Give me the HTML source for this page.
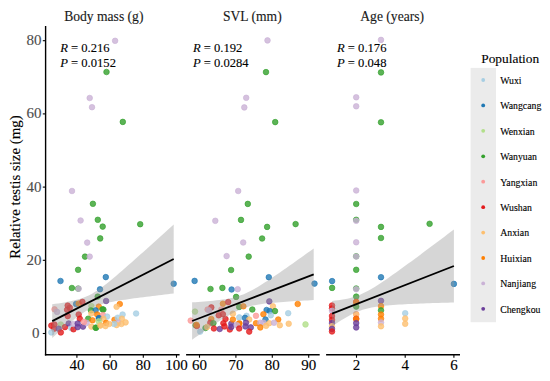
<!DOCTYPE html>
<html><head><meta charset="utf-8"><style>
html,body{margin:0;padding:0;background:#fff;width:550px;height:381px;overflow:hidden}
svg{display:block}
text{font-family:"Liberation Serif",serif;stroke:currentColor;stroke-width:0.12px}
.yt{font-size:15px;fill:#4D4D4D;color:#4D4D4D}
.xt{font-size:15px;fill:#000}
.st{font-size:13.6px;fill:#1A1A1A;color:#1A1A1A}
.yl{font-size:14.9px;fill:#000}
.an{font-size:12.6px;fill:#000}
.lt{font-size:13.4px;fill:#000}
.ll{font-size:9.8px;fill:#000}
</style></head><body>
<svg width="550" height="381" viewBox="0 0 550 381">
<circle cx="115.1" cy="40.8" r="2.8" fill="#CAB2D6" fill-opacity="0.8" stroke="#CAB2D6" stroke-opacity="0.8" stroke-width="0.8"/>
<circle cx="106.5" cy="72.0" r="2.8" fill="#33A02C" fill-opacity="0.8" stroke="#33A02C" stroke-opacity="0.8" stroke-width="0.8"/>
<circle cx="89.7" cy="98.0" r="2.8" fill="#CAB2D6" fill-opacity="0.8" stroke="#CAB2D6" stroke-opacity="0.8" stroke-width="0.8"/>
<circle cx="92.0" cy="107.2" r="2.8" fill="#CAB2D6" fill-opacity="0.8" stroke="#CAB2D6" stroke-opacity="0.8" stroke-width="0.8"/>
<circle cx="122.8" cy="121.9" r="2.8" fill="#33A02C" fill-opacity="0.8" stroke="#33A02C" stroke-opacity="0.8" stroke-width="0.8"/>
<circle cx="72.0" cy="191.0" r="2.8" fill="#CAB2D6" fill-opacity="0.8" stroke="#CAB2D6" stroke-opacity="0.8" stroke-width="0.8"/>
<circle cx="92.9" cy="203.8" r="2.8" fill="#33A02C" fill-opacity="0.8" stroke="#33A02C" stroke-opacity="0.8" stroke-width="0.8"/>
<circle cx="80.6" cy="220.5" r="2.8" fill="#CAB2D6" fill-opacity="0.8" stroke="#CAB2D6" stroke-opacity="0.8" stroke-width="0.8"/>
<circle cx="97.8" cy="219.8" r="2.8" fill="#33A02C" fill-opacity="0.8" stroke="#33A02C" stroke-opacity="0.8" stroke-width="0.8"/>
<circle cx="102.7" cy="226.6" r="2.8" fill="#33A02C" fill-opacity="0.8" stroke="#33A02C" stroke-opacity="0.8" stroke-width="0.8"/>
<circle cx="140.2" cy="224.2" r="2.8" fill="#33A02C" fill-opacity="0.8" stroke="#33A02C" stroke-opacity="0.8" stroke-width="0.8"/>
<circle cx="100.2" cy="238.4" r="2.8" fill="#33A02C" fill-opacity="0.8" stroke="#33A02C" stroke-opacity="0.8" stroke-width="0.8"/>
<circle cx="87.2" cy="242.6" r="2.8" fill="#CAB2D6" fill-opacity="0.8" stroke="#CAB2D6" stroke-opacity="0.8" stroke-width="0.8"/>
<circle cx="85.0" cy="256.6" r="2.8" fill="#33A02C" fill-opacity="0.8" stroke="#33A02C" stroke-opacity="0.8" stroke-width="0.8"/>
<circle cx="89.7" cy="256.6" r="2.8" fill="#CAB2D6" fill-opacity="0.8" stroke="#CAB2D6" stroke-opacity="0.8" stroke-width="0.8"/>
<circle cx="78.1" cy="269.8" r="2.8" fill="#33A02C" fill-opacity="0.8" stroke="#33A02C" stroke-opacity="0.8" stroke-width="0.8"/>
<circle cx="60.5" cy="281.0" r="2.8" fill="#1F78B4" fill-opacity="0.8" stroke="#1F78B4" stroke-opacity="0.8" stroke-width="0.8"/>
<circle cx="71.9" cy="288.0" r="2.8" fill="#33A02C" fill-opacity="0.8" stroke="#33A02C" stroke-opacity="0.8" stroke-width="0.8"/>
<circle cx="78.2" cy="288.6" r="2.8" fill="#33A02C" fill-opacity="0.8" stroke="#33A02C" stroke-opacity="0.8" stroke-width="0.8"/>
<circle cx="78.7" cy="288.7" r="2.8" fill="#CAB2D6" fill-opacity="0.8" stroke="#CAB2D6" stroke-opacity="0.8" stroke-width="0.8"/>
<circle cx="100.0" cy="289.3" r="2.8" fill="#1F78B4" fill-opacity="0.8" stroke="#1F78B4" stroke-opacity="0.8" stroke-width="0.8"/>
<circle cx="105.8" cy="277.1" r="2.8" fill="#1F78B4" fill-opacity="0.8" stroke="#1F78B4" stroke-opacity="0.8" stroke-width="0.8"/>
<circle cx="173.7" cy="283.7" r="2.8" fill="#1F78B4" fill-opacity="0.8" stroke="#1F78B4" stroke-opacity="0.8" stroke-width="0.8"/>
<circle cx="97.7" cy="296.6" r="2.8" fill="#33A02C" fill-opacity="0.8" stroke="#33A02C" stroke-opacity="0.8" stroke-width="0.8"/>
<circle cx="106.1" cy="301.0" r="2.8" fill="#6A3D9A" fill-opacity="0.8" stroke="#6A3D9A" stroke-opacity="0.8" stroke-width="0.8"/>
<circle cx="54.5" cy="309.3" r="2.8" fill="#FB9A99" fill-opacity="0.8" stroke="#FB9A99" stroke-opacity="0.8" stroke-width="0.8"/>
<circle cx="57.1" cy="311.9" r="2.8" fill="#CAB2D6" fill-opacity="0.8" stroke="#CAB2D6" stroke-opacity="0.8" stroke-width="0.8"/>
<circle cx="67.7" cy="305.6" r="2.8" fill="#E31A1C" fill-opacity="0.8" stroke="#E31A1C" stroke-opacity="0.8" stroke-width="0.8"/>
<circle cx="69.8" cy="307.7" r="2.8" fill="#E31A1C" fill-opacity="0.8" stroke="#E31A1C" stroke-opacity="0.8" stroke-width="0.8"/>
<circle cx="67.1" cy="309.8" r="2.8" fill="#E31A1C" fill-opacity="0.8" stroke="#E31A1C" stroke-opacity="0.8" stroke-width="0.8"/>
<circle cx="67.7" cy="316.1" r="2.8" fill="#E31A1C" fill-opacity="0.8" stroke="#E31A1C" stroke-opacity="0.8" stroke-width="0.8"/>
<circle cx="76.1" cy="304.0" r="2.8" fill="#1F78B4" fill-opacity="0.8" stroke="#1F78B4" stroke-opacity="0.8" stroke-width="0.8"/>
<circle cx="78.7" cy="303.5" r="2.8" fill="#FF7F00" fill-opacity="0.8" stroke="#FF7F00" stroke-opacity="0.8" stroke-width="0.8"/>
<circle cx="82.4" cy="301.9" r="2.8" fill="#E31A1C" fill-opacity="0.8" stroke="#E31A1C" stroke-opacity="0.8" stroke-width="0.8"/>
<circle cx="78.7" cy="314.5" r="2.8" fill="#E31A1C" fill-opacity="0.8" stroke="#E31A1C" stroke-opacity="0.8" stroke-width="0.8"/>
<circle cx="79.8" cy="318.7" r="2.8" fill="#E31A1C" fill-opacity="0.8" stroke="#E31A1C" stroke-opacity="0.8" stroke-width="0.8"/>
<circle cx="91.4" cy="306.1" r="2.8" fill="#B2DF8A" fill-opacity="0.8" stroke="#B2DF8A" stroke-opacity="0.8" stroke-width="0.8"/>
<circle cx="98.8" cy="306.6" r="2.8" fill="#FF7F00" fill-opacity="0.8" stroke="#FF7F00" stroke-opacity="0.8" stroke-width="0.8"/>
<circle cx="90.9" cy="310.3" r="2.8" fill="#33A02C" fill-opacity="0.8" stroke="#33A02C" stroke-opacity="0.8" stroke-width="0.8"/>
<circle cx="95.6" cy="310.3" r="2.8" fill="#1F78B4" fill-opacity="0.8" stroke="#1F78B4" stroke-opacity="0.8" stroke-width="0.8"/>
<circle cx="102.5" cy="309.3" r="2.8" fill="#33A02C" fill-opacity="0.8" stroke="#33A02C" stroke-opacity="0.8" stroke-width="0.8"/>
<circle cx="91.4" cy="313.5" r="2.8" fill="#FDBF6F" fill-opacity="0.8" stroke="#FDBF6F" stroke-opacity="0.8" stroke-width="0.8"/>
<circle cx="97.2" cy="314.5" r="2.8" fill="#FF7F00" fill-opacity="0.8" stroke="#FF7F00" stroke-opacity="0.8" stroke-width="0.8"/>
<circle cx="88.2" cy="318.7" r="2.8" fill="#33A02C" fill-opacity="0.8" stroke="#33A02C" stroke-opacity="0.8" stroke-width="0.8"/>
<circle cx="92.5" cy="320.3" r="2.8" fill="#FF7F00" fill-opacity="0.8" stroke="#FF7F00" stroke-opacity="0.8" stroke-width="0.8"/>
<circle cx="98.8" cy="318.2" r="2.8" fill="#1F78B4" fill-opacity="0.8" stroke="#1F78B4" stroke-opacity="0.8" stroke-width="0.8"/>
<circle cx="119.8" cy="304.0" r="2.8" fill="#FF7F00" fill-opacity="0.8" stroke="#FF7F00" stroke-opacity="0.8" stroke-width="0.8"/>
<circle cx="116.6" cy="306.8" r="2.8" fill="#FDBF6F" fill-opacity="0.8" stroke="#FDBF6F" stroke-opacity="0.8" stroke-width="0.8"/>
<circle cx="103.4" cy="309.6" r="2.8" fill="#33A02C" fill-opacity="0.8" stroke="#33A02C" stroke-opacity="0.8" stroke-width="0.8"/>
<circle cx="102.9" cy="315.0" r="2.8" fill="#FB9A99" fill-opacity="0.8" stroke="#FB9A99" stroke-opacity="0.8" stroke-width="0.8"/>
<circle cx="107.1" cy="316.6" r="2.8" fill="#A6CEE3" fill-opacity="0.8" stroke="#A6CEE3" stroke-opacity="0.8" stroke-width="0.8"/>
<circle cx="99.2" cy="318.2" r="2.8" fill="#1F78B4" fill-opacity="0.8" stroke="#1F78B4" stroke-opacity="0.8" stroke-width="0.8"/>
<circle cx="103.4" cy="318.7" r="2.8" fill="#FDBF6F" fill-opacity="0.8" stroke="#FDBF6F" stroke-opacity="0.8" stroke-width="0.8"/>
<circle cx="122.6" cy="314.5" r="2.8" fill="#A6CEE3" fill-opacity="0.8" stroke="#A6CEE3" stroke-opacity="0.8" stroke-width="0.8"/>
<circle cx="136.1" cy="313.5" r="2.8" fill="#A6CEE3" fill-opacity="0.8" stroke="#A6CEE3" stroke-opacity="0.8" stroke-width="0.8"/>
<circle cx="114.5" cy="319.8" r="2.8" fill="#FF7F00" fill-opacity="0.8" stroke="#FF7F00" stroke-opacity="0.8" stroke-width="0.8"/>
<circle cx="117.7" cy="317.7" r="2.8" fill="#A6CEE3" fill-opacity="0.8" stroke="#A6CEE3" stroke-opacity="0.8" stroke-width="0.8"/>
<circle cx="121.9" cy="318.7" r="2.8" fill="#FDBF6F" fill-opacity="0.8" stroke="#FDBF6F" stroke-opacity="0.8" stroke-width="0.8"/>
<circle cx="118.2" cy="322.6" r="2.8" fill="#CAB2D6" fill-opacity="0.8" stroke="#CAB2D6" stroke-opacity="0.8" stroke-width="0.8"/>
<circle cx="125.6" cy="322.4" r="2.8" fill="#FDBF6F" fill-opacity="0.8" stroke="#FDBF6F" stroke-opacity="0.8" stroke-width="0.8"/>
<circle cx="121.4" cy="324.0" r="2.8" fill="#FDBF6F" fill-opacity="0.8" stroke="#FDBF6F" stroke-opacity="0.8" stroke-width="0.8"/>
<circle cx="116.6" cy="325.1" r="2.8" fill="#FDBF6F" fill-opacity="0.8" stroke="#FDBF6F" stroke-opacity="0.8" stroke-width="0.8"/>
<circle cx="114.0" cy="324.0" r="2.8" fill="#A6CEE3" fill-opacity="0.8" stroke="#A6CEE3" stroke-opacity="0.8" stroke-width="0.8"/>
<circle cx="106.1" cy="322.9" r="2.8" fill="#FF7F00" fill-opacity="0.8" stroke="#FF7F00" stroke-opacity="0.8" stroke-width="0.8"/>
<circle cx="109.2" cy="324.0" r="2.8" fill="#FDBF6F" fill-opacity="0.8" stroke="#FDBF6F" stroke-opacity="0.8" stroke-width="0.8"/>
<circle cx="100.3" cy="325.1" r="2.8" fill="#FDBF6F" fill-opacity="0.8" stroke="#FDBF6F" stroke-opacity="0.8" stroke-width="0.8"/>
<circle cx="105.5" cy="326.1" r="2.8" fill="#FDBF6F" fill-opacity="0.8" stroke="#FDBF6F" stroke-opacity="0.8" stroke-width="0.8"/>
<circle cx="96.1" cy="327.7" r="2.8" fill="#33A02C" fill-opacity="0.8" stroke="#33A02C" stroke-opacity="0.8" stroke-width="0.8"/>
<circle cx="98.7" cy="321.4" r="2.8" fill="#B2DF8A" fill-opacity="0.8" stroke="#B2DF8A" stroke-opacity="0.8" stroke-width="0.8"/>
<circle cx="51.3" cy="325.6" r="2.8" fill="#E31A1C" fill-opacity="0.8" stroke="#E31A1C" stroke-opacity="0.8" stroke-width="0.8"/>
<circle cx="54.5" cy="324.5" r="2.8" fill="#E31A1C" fill-opacity="0.8" stroke="#E31A1C" stroke-opacity="0.8" stroke-width="0.8"/>
<circle cx="54.0" cy="328.7" r="2.8" fill="#E31A1C" fill-opacity="0.8" stroke="#E31A1C" stroke-opacity="0.8" stroke-width="0.8"/>
<circle cx="60.8" cy="324.5" r="2.8" fill="#B2DF8A" fill-opacity="0.8" stroke="#B2DF8A" stroke-opacity="0.8" stroke-width="0.8"/>
<circle cx="58.7" cy="328.7" r="2.8" fill="#6A3D9A" fill-opacity="0.8" stroke="#6A3D9A" stroke-opacity="0.8" stroke-width="0.8"/>
<circle cx="60.8" cy="332.4" r="2.8" fill="#E31A1C" fill-opacity="0.8" stroke="#E31A1C" stroke-opacity="0.8" stroke-width="0.8"/>
<circle cx="51.3" cy="332.4" r="2.8" fill="#A6CEE3" fill-opacity="0.8" stroke="#A6CEE3" stroke-opacity="0.8" stroke-width="0.8"/>
<circle cx="65.0" cy="327.1" r="2.8" fill="#E31A1C" fill-opacity="0.8" stroke="#E31A1C" stroke-opacity="0.8" stroke-width="0.8"/>
<circle cx="68.7" cy="323.5" r="2.8" fill="#6A3D9A" fill-opacity="0.8" stroke="#6A3D9A" stroke-opacity="0.8" stroke-width="0.8"/>
<circle cx="71.4" cy="328.2" r="2.8" fill="#A6CEE3" fill-opacity="0.8" stroke="#A6CEE3" stroke-opacity="0.8" stroke-width="0.8"/>
<circle cx="73.5" cy="329.3" r="2.8" fill="#E31A1C" fill-opacity="0.8" stroke="#E31A1C" stroke-opacity="0.8" stroke-width="0.8"/>
<circle cx="73.5" cy="324.0" r="2.8" fill="#CAB2D6" fill-opacity="0.8" stroke="#CAB2D6" stroke-opacity="0.8" stroke-width="0.8"/>
<circle cx="77.7" cy="323.5" r="2.8" fill="#6A3D9A" fill-opacity="0.8" stroke="#6A3D9A" stroke-opacity="0.8" stroke-width="0.8"/>
<circle cx="77.7" cy="327.1" r="2.8" fill="#6A3D9A" fill-opacity="0.8" stroke="#6A3D9A" stroke-opacity="0.8" stroke-width="0.8"/>
<circle cx="83.0" cy="326.6" r="2.8" fill="#6A3D9A" fill-opacity="0.8" stroke="#6A3D9A" stroke-opacity="0.8" stroke-width="0.8"/>
<circle cx="86.7" cy="322.9" r="2.8" fill="#CAB2D6" fill-opacity="0.8" stroke="#CAB2D6" stroke-opacity="0.8" stroke-width="0.8"/>
<circle cx="84.0" cy="321.9" r="2.8" fill="#FB9A99" fill-opacity="0.8" stroke="#FB9A99" stroke-opacity="0.8" stroke-width="0.8"/>
<circle cx="91.4" cy="326.6" r="2.8" fill="#FDBF6F" fill-opacity="0.8" stroke="#FDBF6F" stroke-opacity="0.8" stroke-width="0.8"/>
<circle cx="95.6" cy="327.7" r="2.8" fill="#33A02C" fill-opacity="0.8" stroke="#33A02C" stroke-opacity="0.8" stroke-width="0.8"/>
<circle cx="100.4" cy="325.6" r="2.8" fill="#FDBF6F" fill-opacity="0.8" stroke="#FDBF6F" stroke-opacity="0.8" stroke-width="0.8"/>
<circle cx="267.5" cy="40.4" r="2.8" fill="#CAB2D6" fill-opacity="0.8" stroke="#CAB2D6" stroke-opacity="0.8" stroke-width="0.8"/>
<circle cx="266.0" cy="72.1" r="2.8" fill="#33A02C" fill-opacity="0.8" stroke="#33A02C" stroke-opacity="0.8" stroke-width="0.8"/>
<circle cx="246.2" cy="97.8" r="2.8" fill="#CAB2D6" fill-opacity="0.8" stroke="#CAB2D6" stroke-opacity="0.8" stroke-width="0.8"/>
<circle cx="244.3" cy="107.4" r="2.8" fill="#CAB2D6" fill-opacity="0.8" stroke="#CAB2D6" stroke-opacity="0.8" stroke-width="0.8"/>
<circle cx="275.2" cy="122.1" r="2.8" fill="#33A02C" fill-opacity="0.8" stroke="#33A02C" stroke-opacity="0.8" stroke-width="0.8"/>
<circle cx="238.2" cy="191.0" r="2.8" fill="#CAB2D6" fill-opacity="0.8" stroke="#CAB2D6" stroke-opacity="0.8" stroke-width="0.8"/>
<circle cx="247.8" cy="203.9" r="2.8" fill="#33A02C" fill-opacity="0.8" stroke="#33A02C" stroke-opacity="0.8" stroke-width="0.8"/>
<circle cx="215.3" cy="220.8" r="2.8" fill="#CAB2D6" fill-opacity="0.8" stroke="#CAB2D6" stroke-opacity="0.8" stroke-width="0.8"/>
<circle cx="241.0" cy="219.9" r="2.8" fill="#33A02C" fill-opacity="0.8" stroke="#33A02C" stroke-opacity="0.8" stroke-width="0.8"/>
<circle cx="267.1" cy="226.9" r="2.8" fill="#33A02C" fill-opacity="0.8" stroke="#33A02C" stroke-opacity="0.8" stroke-width="0.8"/>
<circle cx="295.6" cy="224.1" r="2.8" fill="#33A02C" fill-opacity="0.8" stroke="#33A02C" stroke-opacity="0.8" stroke-width="0.8"/>
<circle cx="262.1" cy="238.5" r="2.8" fill="#33A02C" fill-opacity="0.8" stroke="#33A02C" stroke-opacity="0.8" stroke-width="0.8"/>
<circle cx="243.2" cy="242.5" r="2.8" fill="#CAB2D6" fill-opacity="0.8" stroke="#CAB2D6" stroke-opacity="0.8" stroke-width="0.8"/>
<circle cx="226.6" cy="256.1" r="2.8" fill="#CAB2D6" fill-opacity="0.8" stroke="#CAB2D6" stroke-opacity="0.8" stroke-width="0.8"/>
<circle cx="248.7" cy="256.6" r="2.8" fill="#33A02C" fill-opacity="0.8" stroke="#33A02C" stroke-opacity="0.8" stroke-width="0.8"/>
<circle cx="231.1" cy="270.0" r="2.8" fill="#33A02C" fill-opacity="0.8" stroke="#33A02C" stroke-opacity="0.8" stroke-width="0.8"/>
<circle cx="194.6" cy="280.9" r="2.8" fill="#1F78B4" fill-opacity="0.8" stroke="#1F78B4" stroke-opacity="0.8" stroke-width="0.8"/>
<circle cx="268.8" cy="277.2" r="2.8" fill="#1F78B4" fill-opacity="0.8" stroke="#1F78B4" stroke-opacity="0.8" stroke-width="0.8"/>
<circle cx="314.5" cy="283.6" r="2.8" fill="#1F78B4" fill-opacity="0.8" stroke="#1F78B4" stroke-opacity="0.8" stroke-width="0.8"/>
<circle cx="210.5" cy="289.0" r="2.8" fill="#33A02C" fill-opacity="0.8" stroke="#33A02C" stroke-opacity="0.8" stroke-width="0.8"/>
<circle cx="222.4" cy="287.9" r="2.8" fill="#33A02C" fill-opacity="0.8" stroke="#33A02C" stroke-opacity="0.8" stroke-width="0.8"/>
<circle cx="231.6" cy="289.5" r="2.8" fill="#1F78B4" fill-opacity="0.8" stroke="#1F78B4" stroke-opacity="0.8" stroke-width="0.8"/>
<circle cx="237.7" cy="289.2" r="2.8" fill="#CAB2D6" fill-opacity="0.8" stroke="#CAB2D6" stroke-opacity="0.8" stroke-width="0.8"/>
<circle cx="236.1" cy="296.9" r="2.8" fill="#33A02C" fill-opacity="0.8" stroke="#33A02C" stroke-opacity="0.8" stroke-width="0.8"/>
<circle cx="269.3" cy="301.4" r="2.8" fill="#6A3D9A" fill-opacity="0.8" stroke="#6A3D9A" stroke-opacity="0.8" stroke-width="0.8"/>
<circle cx="297.7" cy="304.0" r="2.8" fill="#FF7F00" fill-opacity="0.8" stroke="#FF7F00" stroke-opacity="0.8" stroke-width="0.8"/>
<circle cx="222.9" cy="303.7" r="2.8" fill="#FF7F00" fill-opacity="0.8" stroke="#FF7F00" stroke-opacity="0.8" stroke-width="0.8"/>
<circle cx="228.2" cy="302.1" r="2.8" fill="#E31A1C" fill-opacity="0.8" stroke="#E31A1C" stroke-opacity="0.8" stroke-width="0.8"/>
<circle cx="211.3" cy="307.4" r="2.8" fill="#E31A1C" fill-opacity="0.8" stroke="#E31A1C" stroke-opacity="0.8" stroke-width="0.8"/>
<circle cx="207.6" cy="309.5" r="2.8" fill="#FB9A99" fill-opacity="0.8" stroke="#FB9A99" stroke-opacity="0.8" stroke-width="0.8"/>
<circle cx="209.0" cy="310.5" r="2.8" fill="#CAB2D6" fill-opacity="0.8" stroke="#CAB2D6" stroke-opacity="0.8" stroke-width="0.8"/>
<circle cx="195.0" cy="311.6" r="2.8" fill="#B2DF8A" fill-opacity="0.8" stroke="#B2DF8A" stroke-opacity="0.8" stroke-width="0.8"/>
<circle cx="221.3" cy="309.5" r="2.8" fill="#FB9A99" fill-opacity="0.8" stroke="#FB9A99" stroke-opacity="0.8" stroke-width="0.8"/>
<circle cx="218.7" cy="315.3" r="2.8" fill="#E31A1C" fill-opacity="0.8" stroke="#E31A1C" stroke-opacity="0.8" stroke-width="0.8"/>
<circle cx="222.9" cy="314.2" r="2.8" fill="#E31A1C" fill-opacity="0.8" stroke="#E31A1C" stroke-opacity="0.8" stroke-width="0.8"/>
<circle cx="225.5" cy="319.0" r="2.8" fill="#E31A1C" fill-opacity="0.8" stroke="#E31A1C" stroke-opacity="0.8" stroke-width="0.8"/>
<circle cx="190.7" cy="320.6" r="2.8" fill="#FB9A99" fill-opacity="0.8" stroke="#FB9A99" stroke-opacity="0.8" stroke-width="0.8"/>
<circle cx="211.3" cy="319.0" r="2.8" fill="#FF7F00" fill-opacity="0.8" stroke="#FF7F00" stroke-opacity="0.8" stroke-width="0.8"/>
<circle cx="210.3" cy="322.7" r="2.8" fill="#E31A1C" fill-opacity="0.8" stroke="#E31A1C" stroke-opacity="0.8" stroke-width="0.8"/>
<circle cx="213.4" cy="323.2" r="2.8" fill="#33A02C" fill-opacity="0.8" stroke="#33A02C" stroke-opacity="0.8" stroke-width="0.8"/>
<circle cx="195.6" cy="325.2" r="2.8" fill="#33A02C" fill-opacity="0.8" stroke="#33A02C" stroke-opacity="0.8" stroke-width="0.8"/>
<circle cx="196.9" cy="326.0" r="2.8" fill="#E31A1C" fill-opacity="0.8" stroke="#E31A1C" stroke-opacity="0.8" stroke-width="0.8"/>
<circle cx="196.5" cy="324.8" r="2.8" fill="#FF7F00" fill-opacity="0.8" stroke="#FF7F00" stroke-opacity="0.8" stroke-width="0.8"/>
<circle cx="205.5" cy="328.0" r="2.8" fill="#33A02C" fill-opacity="0.8" stroke="#33A02C" stroke-opacity="0.8" stroke-width="0.8"/>
<circle cx="207.1" cy="326.9" r="2.8" fill="#FDBF6F" fill-opacity="0.8" stroke="#FDBF6F" stroke-opacity="0.8" stroke-width="0.8"/>
<circle cx="200.2" cy="331.6" r="2.8" fill="#A6CEE3" fill-opacity="0.8" stroke="#A6CEE3" stroke-opacity="0.8" stroke-width="0.8"/>
<circle cx="213.9" cy="328.5" r="2.8" fill="#E31A1C" fill-opacity="0.8" stroke="#E31A1C" stroke-opacity="0.8" stroke-width="0.8"/>
<circle cx="219.7" cy="329.0" r="2.8" fill="#6A3D9A" fill-opacity="0.8" stroke="#6A3D9A" stroke-opacity="0.8" stroke-width="0.8"/>
<circle cx="223.4" cy="323.2" r="2.8" fill="#E31A1C" fill-opacity="0.8" stroke="#E31A1C" stroke-opacity="0.8" stroke-width="0.8"/>
<circle cx="224.5" cy="326.4" r="2.8" fill="#E31A1C" fill-opacity="0.8" stroke="#E31A1C" stroke-opacity="0.8" stroke-width="0.8"/>
<circle cx="229.8" cy="329.5" r="2.8" fill="#E31A1C" fill-opacity="0.8" stroke="#E31A1C" stroke-opacity="0.8" stroke-width="0.8"/>
<circle cx="231.3" cy="323.7" r="2.8" fill="#6A3D9A" fill-opacity="0.8" stroke="#6A3D9A" stroke-opacity="0.8" stroke-width="0.8"/>
<circle cx="231.3" cy="326.9" r="2.8" fill="#6A3D9A" fill-opacity="0.8" stroke="#6A3D9A" stroke-opacity="0.8" stroke-width="0.8"/>
<circle cx="236.6" cy="324.8" r="2.8" fill="#CAB2D6" fill-opacity="0.8" stroke="#CAB2D6" stroke-opacity="0.8" stroke-width="0.8"/>
<circle cx="239.3" cy="323.2" r="2.8" fill="#FF7F00" fill-opacity="0.8" stroke="#FF7F00" stroke-opacity="0.8" stroke-width="0.8"/>
<circle cx="232.9" cy="319.5" r="2.8" fill="#FF7F00" fill-opacity="0.8" stroke="#FF7F00" stroke-opacity="0.8" stroke-width="0.8"/>
<circle cx="232.9" cy="313.7" r="2.8" fill="#FDBF6F" fill-opacity="0.8" stroke="#FDBF6F" stroke-opacity="0.8" stroke-width="0.8"/>
<circle cx="239.3" cy="317.4" r="2.8" fill="#A6CEE3" fill-opacity="0.8" stroke="#A6CEE3" stroke-opacity="0.8" stroke-width="0.8"/>
<circle cx="239.2" cy="306.9" r="2.8" fill="#33A02C" fill-opacity="0.8" stroke="#33A02C" stroke-opacity="0.8" stroke-width="0.8"/>
<circle cx="243.4" cy="306.3" r="2.8" fill="#FF7F00" fill-opacity="0.8" stroke="#FF7F00" stroke-opacity="0.8" stroke-width="0.8"/>
<circle cx="252.3" cy="309.5" r="2.8" fill="#33A02C" fill-opacity="0.8" stroke="#33A02C" stroke-opacity="0.8" stroke-width="0.8"/>
<circle cx="272.9" cy="306.3" r="2.8" fill="#FDBF6F" fill-opacity="0.8" stroke="#FDBF6F" stroke-opacity="0.8" stroke-width="0.8"/>
<circle cx="266.6" cy="310.0" r="2.8" fill="#1F78B4" fill-opacity="0.8" stroke="#1F78B4" stroke-opacity="0.8" stroke-width="0.8"/>
<circle cx="269.7" cy="311.1" r="2.8" fill="#1F78B4" fill-opacity="0.8" stroke="#1F78B4" stroke-opacity="0.8" stroke-width="0.8"/>
<circle cx="275.0" cy="311.1" r="2.8" fill="#33A02C" fill-opacity="0.8" stroke="#33A02C" stroke-opacity="0.8" stroke-width="0.8"/>
<circle cx="288.2" cy="313.2" r="2.8" fill="#A6CEE3" fill-opacity="0.8" stroke="#A6CEE3" stroke-opacity="0.8" stroke-width="0.8"/>
<circle cx="263.4" cy="314.2" r="2.8" fill="#FF7F00" fill-opacity="0.8" stroke="#FF7F00" stroke-opacity="0.8" stroke-width="0.8"/>
<circle cx="270.8" cy="315.3" r="2.8" fill="#A6CEE3" fill-opacity="0.8" stroke="#A6CEE3" stroke-opacity="0.8" stroke-width="0.8"/>
<circle cx="256.0" cy="315.8" r="2.8" fill="#FB9A99" fill-opacity="0.8" stroke="#FB9A99" stroke-opacity="0.8" stroke-width="0.8"/>
<circle cx="246.5" cy="315.8" r="2.8" fill="#A6CEE3" fill-opacity="0.8" stroke="#A6CEE3" stroke-opacity="0.8" stroke-width="0.8"/>
<circle cx="245.0" cy="317.9" r="2.8" fill="#1F78B4" fill-opacity="0.8" stroke="#1F78B4" stroke-opacity="0.8" stroke-width="0.8"/>
<circle cx="249.2" cy="319.5" r="2.8" fill="#FDBF6F" fill-opacity="0.8" stroke="#FDBF6F" stroke-opacity="0.8" stroke-width="0.8"/>
<circle cx="265.5" cy="319.5" r="2.8" fill="#1F78B4" fill-opacity="0.8" stroke="#1F78B4" stroke-opacity="0.8" stroke-width="0.8"/>
<circle cx="278.2" cy="319.5" r="2.8" fill="#FF7F00" fill-opacity="0.8" stroke="#FF7F00" stroke-opacity="0.8" stroke-width="0.8"/>
<circle cx="239.2" cy="323.7" r="2.8" fill="#FF7F00" fill-opacity="0.8" stroke="#FF7F00" stroke-opacity="0.8" stroke-width="0.8"/>
<circle cx="237.1" cy="325.3" r="2.8" fill="#CAB2D6" fill-opacity="0.8" stroke="#CAB2D6" stroke-opacity="0.8" stroke-width="0.8"/>
<circle cx="246.0" cy="322.7" r="2.8" fill="#6A3D9A" fill-opacity="0.8" stroke="#6A3D9A" stroke-opacity="0.8" stroke-width="0.8"/>
<circle cx="245.5" cy="326.4" r="2.8" fill="#6A3D9A" fill-opacity="0.8" stroke="#6A3D9A" stroke-opacity="0.8" stroke-width="0.8"/>
<circle cx="250.8" cy="327.4" r="2.8" fill="#6A3D9A" fill-opacity="0.8" stroke="#6A3D9A" stroke-opacity="0.8" stroke-width="0.8"/>
<circle cx="249.2" cy="331.6" r="2.8" fill="#E31A1C" fill-opacity="0.8" stroke="#E31A1C" stroke-opacity="0.8" stroke-width="0.8"/>
<circle cx="256.0" cy="323.2" r="2.8" fill="#FF7F00" fill-opacity="0.8" stroke="#FF7F00" stroke-opacity="0.8" stroke-width="0.8"/>
<circle cx="260.3" cy="322.7" r="2.8" fill="#CAB2D6" fill-opacity="0.8" stroke="#CAB2D6" stroke-opacity="0.8" stroke-width="0.8"/>
<circle cx="263.4" cy="322.7" r="2.8" fill="#CAB2D6" fill-opacity="0.8" stroke="#CAB2D6" stroke-opacity="0.8" stroke-width="0.8"/>
<circle cx="260.3" cy="327.4" r="2.8" fill="#FF7F00" fill-opacity="0.8" stroke="#FF7F00" stroke-opacity="0.8" stroke-width="0.8"/>
<circle cx="266.1" cy="325.8" r="2.8" fill="#FDBF6F" fill-opacity="0.8" stroke="#FDBF6F" stroke-opacity="0.8" stroke-width="0.8"/>
<circle cx="269.2" cy="323.2" r="2.8" fill="#FDBF6F" fill-opacity="0.8" stroke="#FDBF6F" stroke-opacity="0.8" stroke-width="0.8"/>
<circle cx="274.0" cy="322.7" r="2.8" fill="#CAB2D6" fill-opacity="0.8" stroke="#CAB2D6" stroke-opacity="0.8" stroke-width="0.8"/>
<circle cx="279.8" cy="325.3" r="2.8" fill="#FDBF6F" fill-opacity="0.8" stroke="#FDBF6F" stroke-opacity="0.8" stroke-width="0.8"/>
<circle cx="288.7" cy="323.7" r="2.8" fill="#FDBF6F" fill-opacity="0.8" stroke="#FDBF6F" stroke-opacity="0.8" stroke-width="0.8"/>
<circle cx="239.2" cy="328.5" r="2.8" fill="#E31A1C" fill-opacity="0.8" stroke="#E31A1C" stroke-opacity="0.8" stroke-width="0.8"/>
<circle cx="305.5" cy="324.4" r="2.8" fill="#B2DF8A" fill-opacity="0.8" stroke="#B2DF8A" stroke-opacity="0.8" stroke-width="0.8"/>
<circle cx="381.0" cy="39.9" r="2.8" fill="#CAB2D6" fill-opacity="0.8" stroke="#CAB2D6" stroke-opacity="0.8" stroke-width="0.8"/>
<circle cx="381.0" cy="72.4" r="2.8" fill="#33A02C" fill-opacity="0.8" stroke="#33A02C" stroke-opacity="0.8" stroke-width="0.8"/>
<circle cx="356.2" cy="97.3" r="2.8" fill="#CAB2D6" fill-opacity="0.8" stroke="#CAB2D6" stroke-opacity="0.8" stroke-width="0.8"/>
<circle cx="356.2" cy="106.3" r="2.8" fill="#CAB2D6" fill-opacity="0.8" stroke="#CAB2D6" stroke-opacity="0.8" stroke-width="0.8"/>
<circle cx="381.0" cy="122.3" r="2.8" fill="#33A02C" fill-opacity="0.8" stroke="#33A02C" stroke-opacity="0.8" stroke-width="0.8"/>
<circle cx="356.2" cy="190.5" r="2.8" fill="#CAB2D6" fill-opacity="0.8" stroke="#CAB2D6" stroke-opacity="0.8" stroke-width="0.8"/>
<circle cx="356.2" cy="204.0" r="2.8" fill="#33A02C" fill-opacity="0.8" stroke="#33A02C" stroke-opacity="0.8" stroke-width="0.8"/>
<circle cx="356.2" cy="219.8" r="2.8" fill="#33A02C" fill-opacity="0.8" stroke="#33A02C" stroke-opacity="0.8" stroke-width="0.8"/>
<circle cx="356.2" cy="220.8" r="2.8" fill="#CAB2D6" fill-opacity="0.8" stroke="#CAB2D6" stroke-opacity="0.8" stroke-width="0.8"/>
<circle cx="381.0" cy="226.9" r="2.8" fill="#33A02C" fill-opacity="0.8" stroke="#33A02C" stroke-opacity="0.8" stroke-width="0.8"/>
<circle cx="429.6" cy="223.8" r="2.8" fill="#33A02C" fill-opacity="0.8" stroke="#33A02C" stroke-opacity="0.8" stroke-width="0.8"/>
<circle cx="381.0" cy="238.0" r="2.8" fill="#33A02C" fill-opacity="0.8" stroke="#33A02C" stroke-opacity="0.8" stroke-width="0.8"/>
<circle cx="356.2" cy="242.3" r="2.8" fill="#CAB2D6" fill-opacity="0.8" stroke="#CAB2D6" stroke-opacity="0.8" stroke-width="0.8"/>
<circle cx="356.2" cy="256.3" r="2.8" fill="#33A02C" fill-opacity="0.8" stroke="#33A02C" stroke-opacity="0.8" stroke-width="0.8"/>
<circle cx="356.2" cy="256.5" r="2.8" fill="#CAB2D6" fill-opacity="0.8" stroke="#CAB2D6" stroke-opacity="0.8" stroke-width="0.8"/>
<circle cx="356.2" cy="269.8" r="2.8" fill="#33A02C" fill-opacity="0.8" stroke="#33A02C" stroke-opacity="0.8" stroke-width="0.8"/>
<circle cx="332.1" cy="281.1" r="2.8" fill="#1F78B4" fill-opacity="0.8" stroke="#1F78B4" stroke-opacity="0.8" stroke-width="0.8"/>
<circle cx="381.0" cy="277.2" r="2.8" fill="#1F78B4" fill-opacity="0.8" stroke="#1F78B4" stroke-opacity="0.8" stroke-width="0.8"/>
<circle cx="453.9" cy="283.9" r="2.8" fill="#1F78B4" fill-opacity="0.8" stroke="#1F78B4" stroke-opacity="0.8" stroke-width="0.8"/>
<circle cx="332.1" cy="287.9" r="2.8" fill="#33A02C" fill-opacity="0.8" stroke="#33A02C" stroke-opacity="0.8" stroke-width="0.8"/>
<circle cx="356.2" cy="288.5" r="2.8" fill="#33A02C" fill-opacity="0.8" stroke="#33A02C" stroke-opacity="0.8" stroke-width="0.8"/>
<circle cx="356.2" cy="289.2" r="2.8" fill="#CAB2D6" fill-opacity="0.8" stroke="#CAB2D6" stroke-opacity="0.8" stroke-width="0.8"/>
<circle cx="356.2" cy="296.6" r="2.8" fill="#33A02C" fill-opacity="0.8" stroke="#33A02C" stroke-opacity="0.8" stroke-width="0.8"/>
<circle cx="356.2" cy="301.9" r="2.8" fill="#E31A1C" fill-opacity="0.8" stroke="#E31A1C" stroke-opacity="0.8" stroke-width="0.8"/>
<circle cx="356.2" cy="302.2" r="2.8" fill="#FF7F00" fill-opacity="0.8" stroke="#FF7F00" stroke-opacity="0.8" stroke-width="0.8"/>
<circle cx="356.2" cy="306.6" r="2.8" fill="#33A02C" fill-opacity="0.8" stroke="#33A02C" stroke-opacity="0.8" stroke-width="0.8"/>
<circle cx="356.2" cy="314.1" r="2.8" fill="#FB9A99" fill-opacity="0.8" stroke="#FB9A99" stroke-opacity="0.8" stroke-width="0.8"/>
<circle cx="356.2" cy="314.5" r="2.8" fill="#FDBF6F" fill-opacity="0.8" stroke="#FDBF6F" stroke-opacity="0.8" stroke-width="0.8"/>
<circle cx="356.2" cy="318.7" r="2.8" fill="#E31A1C" fill-opacity="0.8" stroke="#E31A1C" stroke-opacity="0.8" stroke-width="0.8"/>
<circle cx="356.2" cy="319.0" r="2.8" fill="#FF7F00" fill-opacity="0.8" stroke="#FF7F00" stroke-opacity="0.8" stroke-width="0.8"/>
<circle cx="356.2" cy="323.1" r="2.8" fill="#6A3D9A" fill-opacity="0.8" stroke="#6A3D9A" stroke-opacity="0.8" stroke-width="0.8"/>
<circle cx="356.2" cy="327.4" r="2.8" fill="#6A3D9A" fill-opacity="0.8" stroke="#6A3D9A" stroke-opacity="0.8" stroke-width="0.8"/>
<circle cx="381.0" cy="300.8" r="2.8" fill="#6A3D9A" fill-opacity="0.8" stroke="#6A3D9A" stroke-opacity="0.8" stroke-width="0.8"/>
<circle cx="381.0" cy="306.1" r="2.8" fill="#FF7F00" fill-opacity="0.8" stroke="#FF7F00" stroke-opacity="0.8" stroke-width="0.8"/>
<circle cx="381.0" cy="310.3" r="2.8" fill="#33A02C" fill-opacity="0.8" stroke="#33A02C" stroke-opacity="0.8" stroke-width="0.8"/>
<circle cx="381.0" cy="314.5" r="2.8" fill="#FF7F00" fill-opacity="0.8" stroke="#FF7F00" stroke-opacity="0.8" stroke-width="0.8"/>
<circle cx="381.0" cy="318.7" r="2.8" fill="#FF7F00" fill-opacity="0.8" stroke="#FF7F00" stroke-opacity="0.8" stroke-width="0.8"/>
<circle cx="381.0" cy="322.5" r="2.8" fill="#CAB2D6" fill-opacity="0.8" stroke="#CAB2D6" stroke-opacity="0.8" stroke-width="0.8"/>
<circle cx="381.0" cy="326.3" r="2.8" fill="#FDBF6F" fill-opacity="0.8" stroke="#FDBF6F" stroke-opacity="0.8" stroke-width="0.8"/>
<circle cx="405.2" cy="313.2" r="2.8" fill="#A6CEE3" fill-opacity="0.8" stroke="#A6CEE3" stroke-opacity="0.8" stroke-width="0.8"/>
<circle cx="405.2" cy="318.5" r="2.8" fill="#FDBF6F" fill-opacity="0.8" stroke="#FDBF6F" stroke-opacity="0.8" stroke-width="0.8"/>
<circle cx="405.2" cy="323.8" r="2.8" fill="#FDBF6F" fill-opacity="0.8" stroke="#FDBF6F" stroke-opacity="0.8" stroke-width="0.8"/>
<circle cx="332.0" cy="305.5" r="2.8" fill="#E31A1C" fill-opacity="0.8" stroke="#E31A1C" stroke-opacity="0.8" stroke-width="0.8"/>
<circle cx="332.0" cy="308.5" r="2.8" fill="#E31A1C" fill-opacity="0.8" stroke="#E31A1C" stroke-opacity="0.8" stroke-width="0.8"/>
<circle cx="332.0" cy="310.8" r="2.8" fill="#CAB2D6" fill-opacity="0.8" stroke="#CAB2D6" stroke-opacity="0.8" stroke-width="0.8"/>
<circle cx="332.0" cy="316.0" r="2.8" fill="#E31A1C" fill-opacity="0.8" stroke="#E31A1C" stroke-opacity="0.8" stroke-width="0.8"/>
<circle cx="332.0" cy="319.9" r="2.8" fill="#E31A1C" fill-opacity="0.8" stroke="#E31A1C" stroke-opacity="0.8" stroke-width="0.8"/>
<circle cx="332.0" cy="323.1" r="2.8" fill="#6A3D9A" fill-opacity="0.8" stroke="#6A3D9A" stroke-opacity="0.8" stroke-width="0.8"/>
<circle cx="332.0" cy="326.2" r="2.8" fill="#FDBF6F" fill-opacity="0.8" stroke="#FDBF6F" stroke-opacity="0.8" stroke-width="0.8"/>
<circle cx="332.0" cy="328.9" r="2.8" fill="#6A3D9A" fill-opacity="0.8" stroke="#6A3D9A" stroke-opacity="0.8" stroke-width="0.8"/>
<circle cx="332.0" cy="331.5" r="2.8" fill="#E31A1C" fill-opacity="0.8" stroke="#E31A1C" stroke-opacity="0.8" stroke-width="0.8"/>
<polygon points="52.20,304.31 55.24,303.86 58.28,303.40 61.31,302.91 64.35,302.39 67.39,301.83 70.42,301.23 73.46,300.56 76.50,299.81 79.54,298.95 82.57,297.96 85.61,296.80 88.65,295.45 91.69,293.88 94.72,292.11 97.76,290.14 100.80,288.01 103.84,285.75 106.88,283.39 109.91,280.94 112.95,278.44 115.99,275.88 119.02,273.30 122.06,270.68 125.10,268.03 128.14,265.37 131.18,262.70 134.21,260.01 137.25,257.31 140.29,254.60 143.32,251.89 146.36,249.16 149.40,246.44 152.44,243.71 155.47,240.97 158.51,238.23 161.55,235.49 164.59,232.74 167.62,229.99 170.66,227.24 173.70,224.49 173.70,293.51 170.66,293.86 167.62,294.22 164.59,294.57 161.55,294.93 158.51,295.30 155.47,295.66 152.44,296.03 149.40,296.40 146.36,296.78 143.32,297.16 140.29,297.55 137.25,297.95 134.21,298.36 131.18,298.77 128.14,299.20 125.10,299.65 122.06,300.11 119.02,300.59 115.99,301.11 112.95,301.66 109.91,302.26 106.88,302.92 103.84,303.66 100.80,304.51 97.76,305.48 94.72,306.62 91.69,307.95 88.65,309.49 85.61,311.24 82.57,313.19 79.54,315.30 76.50,317.55 73.46,319.91 70.42,322.34 67.39,324.84 64.35,327.39 61.31,329.98 58.28,332.59 55.24,335.23 52.20,337.89" fill="#999999" fill-opacity="0.4"/>
<polygon points="192.10,302.35 195.14,302.15 198.18,301.95 201.22,301.73 204.26,301.50 207.30,301.25 210.34,300.98 213.38,300.69 216.42,300.37 219.46,300.01 222.50,299.60 225.54,299.13 228.58,298.59 231.62,297.95 234.66,297.21 237.70,296.33 240.74,295.31 243.78,294.13 246.82,292.79 249.86,291.31 252.90,289.70 255.94,287.98 258.98,286.17 262.02,284.29 265.06,282.36 268.10,280.38 271.14,278.36 274.18,276.31 277.22,274.24 280.26,272.15 283.30,270.05 286.34,267.93 289.38,265.80 292.42,263.66 295.46,261.51 298.50,259.35 301.54,257.19 304.58,255.02 307.62,252.85 310.66,250.67 313.70,248.49 313.70,300.11 310.66,300.26 307.62,300.42 304.58,300.58 301.54,300.75 298.50,300.92 295.46,301.10 292.42,301.29 289.38,301.48 286.34,301.69 283.30,301.90 280.26,302.13 277.22,302.38 274.18,302.64 271.14,302.93 268.10,303.25 265.06,303.60 262.02,304.00 258.98,304.46 255.94,304.99 252.90,305.60 249.86,306.33 246.82,307.18 243.78,308.18 240.74,309.33 237.70,310.64 234.66,312.10 231.62,313.69 228.58,315.39 225.54,317.19 222.50,319.05 219.46,320.98 216.42,322.95 213.38,324.96 210.34,327.01 207.30,329.07 204.26,331.16 201.22,333.26 198.18,335.38 195.14,337.51 192.10,339.65" fill="#999999" fill-opacity="0.4"/>
<polygon points="332.10,300.95 335.15,300.61 338.19,300.23 341.24,299.79 344.28,299.26 347.33,298.65 350.37,297.92 353.42,297.06 356.46,296.05 359.50,294.88 362.55,293.55 365.60,292.07 368.64,290.46 371.69,288.72 374.73,286.89 377.77,284.97 380.82,282.99 383.87,280.95 386.91,278.88 389.95,276.76 393.00,274.62 396.05,272.46 399.09,270.27 402.13,268.07 405.18,265.85 408.23,263.62 411.27,261.39 414.31,259.14 417.36,256.89 420.40,254.63 423.45,252.36 426.50,250.09 429.54,247.82 432.58,245.54 435.63,243.26 438.67,240.97 441.72,238.68 444.76,236.39 447.81,234.10 450.85,231.80 453.90,229.51 453.90,302.49 450.85,302.58 447.81,302.66 444.76,302.75 441.72,302.84 438.67,302.93 435.63,303.02 432.58,303.12 429.54,303.22 426.50,303.33 423.45,303.44 420.40,303.55 417.36,303.67 414.31,303.80 411.27,303.93 408.23,304.08 405.18,304.23 402.13,304.39 399.09,304.57 396.05,304.76 393.00,304.98 389.95,305.22 386.91,305.48 383.87,305.79 380.82,306.13 377.77,306.53 374.73,306.99 371.69,307.54 368.64,308.18 365.60,308.95 362.55,309.85 359.50,310.90 356.46,312.11 353.42,313.48 350.37,315.00 347.33,316.65 344.28,318.42 341.24,320.27 338.19,322.21 335.15,324.21 332.10,326.25" fill="#999999" fill-opacity="0.4"/>
<line x1="52.2" y1="321.1" x2="173.7" y2="259.0" stroke="#000" stroke-width="1.8"/>
<line x1="192.1" y1="321.0" x2="313.7" y2="274.3" stroke="#000" stroke-width="1.8"/>
<line x1="332.1" y1="313.6" x2="453.9" y2="266.0" stroke="#000" stroke-width="1.8"/>
<line x1="45.6" y1="26" x2="45.6" y2="355.4" stroke="#000" stroke-width="1.4"/>
<line x1="44.9" y1="354.7" x2="179.6" y2="354.7" stroke="#000" stroke-width="1.4"/>
<line x1="186.1" y1="354.7" x2="319.7" y2="354.7" stroke="#000" stroke-width="1.4"/>
<line x1="326.1" y1="354.7" x2="460" y2="354.7" stroke="#000" stroke-width="1.4"/>
<line x1="42.8" y1="333.50" x2="45.6" y2="333.50" stroke="#000" stroke-width="1.1"/>
<text x="39.6" y="338.00" text-anchor="end" class="yt">0</text>
<line x1="42.8" y1="260.30" x2="45.6" y2="260.30" stroke="#000" stroke-width="1.1"/>
<text x="41.4" y="264.80" text-anchor="end" class="yt">20</text>
<line x1="42.8" y1="187.10" x2="45.6" y2="187.10" stroke="#000" stroke-width="1.1"/>
<text x="41.4" y="191.60" text-anchor="end" class="yt">40</text>
<line x1="42.8" y1="113.90" x2="45.6" y2="113.90" stroke="#000" stroke-width="1.1"/>
<text x="41.4" y="118.40" text-anchor="end" class="yt">60</text>
<line x1="42.8" y1="40.70" x2="45.6" y2="40.70" stroke="#000" stroke-width="1.1"/>
<text x="41.4" y="45.20" text-anchor="end" class="yt">80</text>
<line x1="76.9" y1="354.7" x2="76.9" y2="357.7" stroke="#000" stroke-width="1.1"/>
<text x="76.9" y="370.0" text-anchor="middle" class="xt">40</text>
<line x1="110.1" y1="354.7" x2="110.1" y2="357.7" stroke="#000" stroke-width="1.1"/>
<text x="110.1" y="370.0" text-anchor="middle" class="xt">60</text>
<line x1="143.3" y1="354.7" x2="143.3" y2="357.7" stroke="#000" stroke-width="1.1"/>
<text x="143.3" y="370.0" text-anchor="middle" class="xt">80</text>
<line x1="176.5" y1="354.7" x2="176.5" y2="357.7" stroke="#000" stroke-width="1.1"/>
<text x="176.5" y="370.0" text-anchor="middle" class="xt">100</text>
<line x1="199.5" y1="354.7" x2="199.5" y2="357.7" stroke="#000" stroke-width="1.1"/>
<text x="199.5" y="370.0" text-anchor="middle" class="xt">60</text>
<line x1="235.9" y1="354.7" x2="235.9" y2="357.7" stroke="#000" stroke-width="1.1"/>
<text x="235.9" y="370.0" text-anchor="middle" class="xt">70</text>
<line x1="272.3" y1="354.7" x2="272.3" y2="357.7" stroke="#000" stroke-width="1.1"/>
<text x="272.3" y="370.0" text-anchor="middle" class="xt">80</text>
<line x1="308.7" y1="354.7" x2="308.7" y2="357.7" stroke="#000" stroke-width="1.1"/>
<text x="308.7" y="370.0" text-anchor="middle" class="xt">90</text>
<line x1="356.5" y1="354.7" x2="356.5" y2="357.7" stroke="#000" stroke-width="1.1"/>
<text x="356.5" y="370.0" text-anchor="middle" class="xt">2</text>
<line x1="405.2" y1="354.7" x2="405.2" y2="357.7" stroke="#000" stroke-width="1.1"/>
<text x="405.2" y="370.0" text-anchor="middle" class="xt">4</text>
<line x1="453.9" y1="354.7" x2="453.9" y2="357.7" stroke="#000" stroke-width="1.1"/>
<text x="453.9" y="370.0" text-anchor="middle" class="xt">6</text>
<text x="103.8" y="20.8" text-anchor="middle" class="st">Body mass (g)</text>
<text x="252.3" y="20.8" text-anchor="middle" class="st">SVL (mm)</text>
<text x="392.2" y="20.8" text-anchor="middle" class="st">Age (years)</text>
<text transform="translate(20.0,187) rotate(-90)" text-anchor="middle" class="yl">Relative testis size (mg)</text>
<text x="60.2" y="51.5" class="an"><tspan font-style="italic">R</tspan> = 0.216</text>
<text x="60.2" y="66.7" class="an"><tspan font-style="italic">P</tspan> = 0.0152</text>
<text x="192.9" y="51.5" class="an"><tspan font-style="italic">R</tspan> = 0.192</text>
<text x="192.9" y="66.7" class="an"><tspan font-style="italic">P</tspan> = 0.0284</text>
<text x="337.0" y="51.5" class="an"><tspan font-style="italic">R</tspan> = 0.176</text>
<text x="337.0" y="66.7" class="an"><tspan font-style="italic">P</tspan> = 0.048</text>
<text x="481.2" y="63.0" class="lt">Population</text>
<rect x="470.6" y="67.9" width="25.4" height="254.3" fill="#EBEBEB"/>
<circle cx="483.2" cy="80.00" r="1.9" fill="#A6CEE3"/>
<text x="500.2" y="83.90" class="ll">Wuxi</text>
<circle cx="483.2" cy="105.43" r="1.9" fill="#1F78B4"/>
<text x="500.2" y="109.33" class="ll">Wangcang</text>
<circle cx="483.2" cy="130.86" r="1.9" fill="#B2DF8A"/>
<text x="500.2" y="134.76" class="ll">Wenxian</text>
<circle cx="483.2" cy="156.29" r="1.9" fill="#33A02C"/>
<text x="500.2" y="160.19" class="ll">Wanyuan</text>
<circle cx="483.2" cy="181.72" r="1.9" fill="#FB9A99"/>
<text x="500.2" y="185.62" class="ll">Yangxian</text>
<circle cx="483.2" cy="207.15" r="1.9" fill="#E31A1C"/>
<text x="500.2" y="211.05" class="ll">Wushan</text>
<circle cx="483.2" cy="232.58" r="1.9" fill="#FDBF6F"/>
<text x="500.2" y="236.48" class="ll">Anxian</text>
<circle cx="483.2" cy="258.01" r="1.9" fill="#FF7F00"/>
<text x="500.2" y="261.91" class="ll">Huixian</text>
<circle cx="483.2" cy="283.44" r="1.9" fill="#CAB2D6"/>
<text x="500.2" y="287.34" class="ll">Nanjiang</text>
<circle cx="483.2" cy="308.87" r="1.9" fill="#6A3D9A"/>
<text x="500.2" y="312.77" class="ll">Chengkou</text>
</svg>
</body></html>
